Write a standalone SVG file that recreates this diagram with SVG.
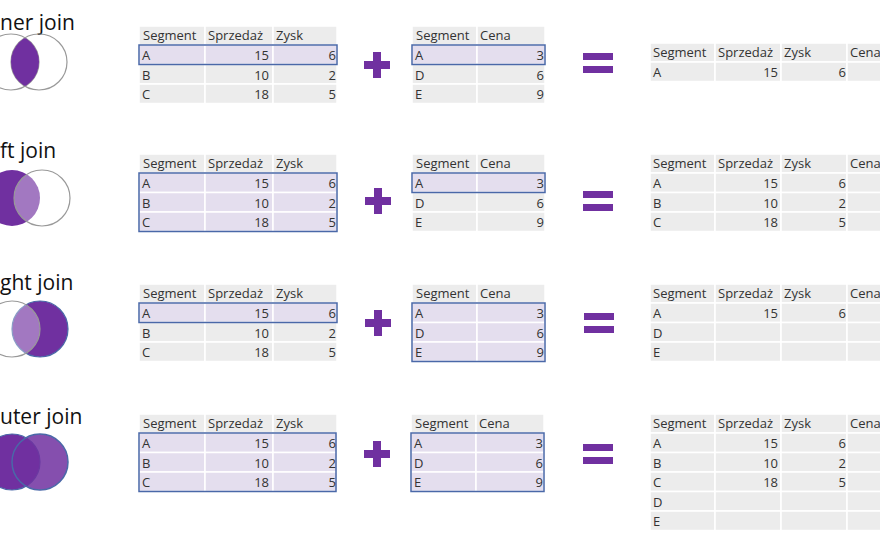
<svg xmlns="http://www.w3.org/2000/svg" width="880" height="540" viewBox="0 0 880 540">
<style>
text{font-family:"Open Sans","Liberation Sans",sans-serif;font-size:13px;fill:#333}
.t{font-size:21px;fill:#111}
.c{fill:#ececec;stroke:#fff;stroke-width:1.5}
.h{fill:#e4deee;stroke:#fff;stroke-width:1.5}
.b{fill:none;stroke:#4a68a8;stroke-width:1.5}
.r{text-anchor:end}
.p{fill:#7030a0}
</style>
<defs>
<g id="L3">
<rect class="c" x="0" y="0" width="66" height="19"/><rect class="c" x="66" y="0" width="68" height="19"/><rect class="c" x="134" y="0" width="64" height="19"/>
<text x="4" y="14">Segment</text><text x="69" y="14">Sprzedaż</text><text x="137" y="14">Zysk</text>
</g>
<g id="R2">
<rect class="c" x="0" y="0" width="65" height="19"/><rect class="c" x="65" y="0" width="68" height="19"/>
<text x="4" y="14">Segment</text><text x="68" y="14">Cena</text>
</g>
<g id="O4">
<rect class="c" x="0" y="0" width="65" height="19"/><rect class="c" x="65" y="0" width="66" height="19"/><rect class="c" x="131" y="0" width="66" height="19"/><rect class="c" x="197" y="0" width="40" height="19"/>
<text x="3" y="14">Segment</text><text x="68" y="14">Sprzedaż</text><text x="134" y="14">Zysk</text><text x="200" y="14">Cena</text>
</g>
<g id="lrow"><rect class="c" x="0" y="0" width="66" height="19.5"/><rect class="c" x="66" y="0" width="68" height="19.5"/><rect class="c" x="134" y="0" width="64" height="19.5"/></g>
<g id="lrowh"><rect class="h" x="0" y="0" width="66" height="19.5"/><rect class="h" x="66" y="0" width="68" height="19.5"/><rect class="h" x="134" y="0" width="64" height="19.5"/></g>
<g id="rrow"><rect class="c" x="0" y="0" width="65" height="19.5"/><rect class="c" x="65" y="0" width="68" height="19.5"/></g>
<g id="rrowh"><rect class="h" x="0" y="0" width="65" height="19.5"/><rect class="h" x="65" y="0" width="68" height="19.5"/></g>
<g id="orow"><rect class="c" x="0" y="0" width="65" height="19.5"/><rect class="c" x="65" y="0" width="66" height="19.5"/><rect class="c" x="131" y="0" width="66" height="19.5"/><rect class="c" x="197" y="0" width="40" height="19.5"/></g>
<g id="plus"><rect class="p" x="-13" y="-4" width="26" height="8"/><rect class="p" x="-4" y="-13" width="8" height="26"/></g>
<g id="eq"><rect class="p" x="-15" y="-10" width="30" height="7"/><rect class="p" x="-15" y="3" width="30" height="7"/></g>
</defs>

<!-- Row 1: inner join -->
<g id="inner">
<text class="t" x="0" y="30">ner join</text>
<circle cx="11" cy="62" r="28" fill="#fff" stroke="#999" stroke-width="1.2"/>
<circle cx="39" cy="62" r="28" fill="none" stroke="#999" stroke-width="1.2"/>
<clipPath id="cl1"><circle cx="11" cy="62" r="28"/></clipPath>
<circle cx="39" cy="62" r="28" fill="#7030a0" clip-path="url(#cl1)"/>
<g transform="translate(139,26)">
<use href="#L3"/>
<use href="#lrowh" y="19"/><use href="#lrow" y="38.5"/><use href="#lrow" y="58"/>
<rect class="b" x="0" y="19" width="198" height="19.5"/>
<text x="3" y="34">A</text><text class="r" x="130" y="34">15</text><text class="r" x="197" y="34">6</text>
<text x="3" y="53.5">B</text><text class="r" x="130" y="53.5">10</text><text class="r" x="197" y="53.5">2</text>
<text x="3" y="73">C</text><text class="r" x="130" y="73">18</text><text class="r" x="197" y="73">5</text>
</g>
<use href="#plus" x="377" y="65"/>
<g transform="translate(412,26)">
<use href="#R2"/>
<use href="#rrowh" y="19"/><use href="#rrow" y="38.5"/><use href="#rrow" y="58"/>
<rect class="b" x="0" y="19" width="133" height="19.5"/>
<text x="3" y="34">A</text><text class="r" x="132" y="34">3</text>
<text x="3" y="53.5">D</text><text class="r" x="132" y="53.5">6</text>
<text x="3" y="73">E</text><text class="r" x="132" y="73">9</text>
</g>
<use href="#eq" x="598" y="63"/>
<g transform="translate(650,43)">
<use href="#O4"/><use href="#orow" y="19"/>
<text x="3" y="34">A</text><text class="r" x="128" y="34">15</text><text class="r" x="196" y="34">6</text>
</g>
</g>

<!-- Row 2: left join -->
<g id="left">
<text class="t" x="0" y="158">ft join</text>
<circle cx="12" cy="198" r="28" fill="#7030a0"/>
<circle cx="42" cy="198" r="28" fill="#fff" fill-opacity="0.35" stroke="#999" stroke-width="1.2"/>
<g transform="translate(139,154)">
<use href="#L3"/>
<use href="#lrowh" y="19"/><use href="#lrowh" y="38.5"/><use href="#lrowh" y="58"/>
<rect class="b" x="0" y="19" width="198" height="58.5"/>
<text x="3" y="34">A</text><text class="r" x="130" y="34">15</text><text class="r" x="197" y="34">6</text>
<text x="3" y="53.5">B</text><text class="r" x="130" y="53.5">10</text><text class="r" x="197" y="53.5">2</text>
<text x="3" y="73">C</text><text class="r" x="130" y="73">18</text><text class="r" x="197" y="73">5</text>
</g>
<use href="#plus" x="378" y="201"/>
<g transform="translate(412,154)">
<use href="#R2"/>
<use href="#rrowh" y="19"/><use href="#rrow" y="38.5"/><use href="#rrow" y="58"/>
<rect class="b" x="0" y="19" width="133" height="19.5"/>
<text x="3" y="34">A</text><text class="r" x="132" y="34">3</text>
<text x="3" y="53.5">D</text><text class="r" x="132" y="53.5">6</text>
<text x="3" y="73">E</text><text class="r" x="132" y="73">9</text>
</g>
<use href="#eq" x="598" y="201"/>
<g transform="translate(650,154)">
<use href="#O4"/><use href="#orow" y="19"/><use href="#orow" y="38.5"/><use href="#orow" y="58"/>
<text x="3" y="34">A</text><text class="r" x="128" y="34">15</text><text class="r" x="196" y="34">6</text>
<text x="3" y="53.5">B</text><text class="r" x="128" y="53.5">10</text><text class="r" x="196" y="53.5">2</text>
<text x="3" y="73">C</text><text class="r" x="128" y="73">18</text><text class="r" x="196" y="73">5</text>
</g>
</g>

<!-- Row 3: right join -->
<g id="right">
<text class="t" x="0" y="290">ght join</text>
<circle cx="40" cy="329" r="28" fill="#7030a0" stroke="#4a68a8" stroke-width="1.2"/>
<circle cx="12" cy="329" r="28" fill="#fff" fill-opacity="0.35" stroke="#999" stroke-width="1.2"/>
<g transform="translate(139,284)">
<use href="#L3"/>
<use href="#lrowh" y="19"/><use href="#lrow" y="38.5"/><use href="#lrow" y="58"/>
<rect class="b" x="0" y="19" width="198" height="19.5"/>
<text x="3" y="34">A</text><text class="r" x="130" y="34">15</text><text class="r" x="197" y="34">6</text>
<text x="3" y="53.5">B</text><text class="r" x="130" y="53.5">10</text><text class="r" x="197" y="53.5">2</text>
<text x="3" y="73">C</text><text class="r" x="130" y="73">18</text><text class="r" x="197" y="73">5</text>
</g>
<use href="#plus" x="378" y="323"/>
<g transform="translate(412,284)">
<use href="#R2"/>
<use href="#rrowh" y="19"/><use href="#rrowh" y="38.5"/><use href="#rrowh" y="58"/>
<rect class="b" x="0" y="19" width="133" height="58.5"/>
<text x="3" y="34">A</text><text class="r" x="132" y="34">3</text>
<text x="3" y="53.5">D</text><text class="r" x="132" y="53.5">6</text>
<text x="3" y="73">E</text><text class="r" x="132" y="73">9</text>
</g>
<use href="#eq" x="599" y="323"/>
<g transform="translate(650,284)">
<use href="#O4"/><use href="#orow" y="19"/><use href="#orow" y="38.5"/><use href="#orow" y="58"/>
<text x="3" y="34">A</text><text class="r" x="128" y="34">15</text><text class="r" x="196" y="34">6</text>
<text x="3" y="53.5">D</text>
<text x="3" y="73">E</text>
</g>
</g>

<!-- Row 4: outer join -->
<g id="outer">
<text class="t" x="0" y="424">uter join</text>
<circle cx="12" cy="462" r="28" fill="#7030a0" stroke="#4a68a8" stroke-width="1.2"/>
<circle cx="40" cy="462" r="28" fill="#7030a0" fill-opacity="0.85" stroke="#4a68a8" stroke-width="1.5"/>
<g transform="translate(139,414)">
<use href="#L3"/>
<use href="#lrowh" y="19"/><use href="#lrowh" y="38.5"/><use href="#lrowh" y="58"/>
<rect class="b" x="0" y="19" width="197" height="58.5"/>
<text x="3" y="34">A</text><text class="r" x="130" y="34">15</text><text class="r" x="197" y="34">6</text>
<text x="3" y="53.5">B</text><text class="r" x="130" y="53.5">10</text><text class="r" x="197" y="53.5">2</text>
<text x="3" y="73">C</text><text class="r" x="130" y="73">18</text><text class="r" x="197" y="73">5</text>
</g>
<use href="#plus" x="377" y="454"/>
<g transform="translate(411,414)">
<use href="#R2"/>
<use href="#rrowh" y="19"/><use href="#rrowh" y="38.5"/><use href="#rrowh" y="58"/>
<rect class="b" x="0" y="19" width="133" height="58.5"/>
<text x="3" y="34">A</text><text class="r" x="132" y="34">3</text>
<text x="3" y="53.5">D</text><text class="r" x="132" y="53.5">6</text>
<text x="3" y="73">E</text><text class="r" x="132" y="73">9</text>
</g>
<use href="#eq" x="598" y="454"/>
<g transform="translate(650,414)">
<use href="#O4"/><use href="#orow" y="19"/><use href="#orow" y="38.5"/><use href="#orow" y="58"/><use href="#orow" y="77.5"/><use href="#orow" y="97"/>
<text x="3" y="34">A</text><text class="r" x="128" y="34">15</text><text class="r" x="196" y="34">6</text>
<text x="3" y="53.5">B</text><text class="r" x="128" y="53.5">10</text><text class="r" x="196" y="53.5">2</text>
<text x="3" y="73">C</text><text class="r" x="128" y="73">18</text><text class="r" x="196" y="73">5</text>
<text x="3" y="92.5">D</text>
<text x="3" y="112">E</text>
</g>
</g>
</svg>
